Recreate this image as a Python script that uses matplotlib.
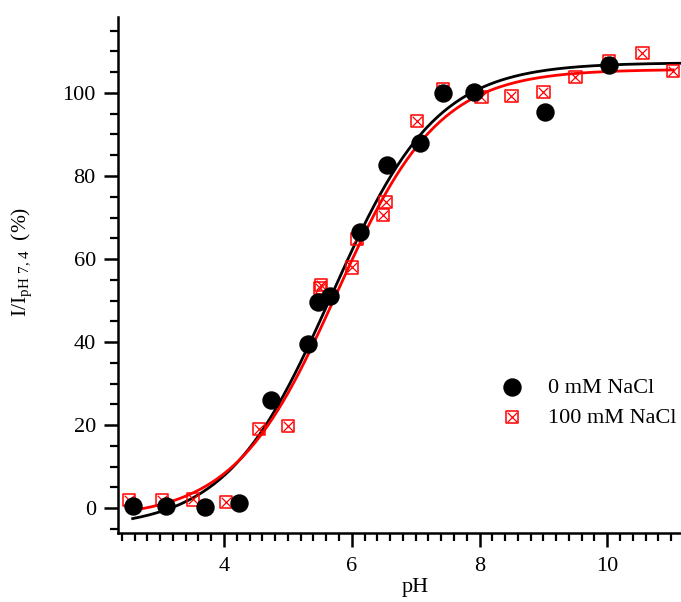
"""pH response of the probe, with and without NaCl, and Boltzmann fits."""
import matplotlib
matplotlib.use("Agg")
import matplotlib.pyplot as plt
import numpy as np
from matplotlib.ticker import MultipleLocator

# 0 mM NaCl
ph_0 = [2.57, 3.09, 3.70, 4.23, 4.74, 5.32, 5.47, 5.66, 6.13, 6.55, 7.07, 7.43, 7.91, 9.02, 10.03]
int_0 = [0.5, 0.5, 0.3, 1.3, 26.0, 39.6, 49.6, 51.0, 66.5, 82.6, 88.0, 100.0, 100.3, 95.4, 106.8]

# 100 mM NaCl
ph_100 = [2.51, 3.03, 3.51, 4.03, 4.55, 5.00, 5.50, 5.52, 6.00, 6.08, 6.49, 6.53, 7.02,
          7.43, 8.03, 8.50, 9.00, 9.50, 10.03, 10.55, 11.03]
int_100 = [2.0, 2.0, 2.1, 1.5, 19.0, 19.8, 53.0, 53.8, 58.0, 64.8, 70.6, 73.7, 93.3,
           101.0, 99.0, 99.3, 100.2, 103.9, 107.7, 109.6, 105.3]

# Boltzmann fit parameters (A1, A2, x0, dx)
fit_0 = (-5.0, 107.3, 5.68, 0.82)
fit_100 = (-2.5, 105.7, 5.76, 0.80)
fit_range_0 = (2.57, 11.6)
fit_range_100 = (2.50, 11.03)

labels = ["0 mM NaCl", "100 mM NaCl"]


def boltzmann(x, a1, a2, x0, dx):
    return a2 + (a1 - a2) / (1 + np.exp((x - x0) / dx))


plt.rcParams["font.family"] = "Liberation Serif"
plt.rcParams["mathtext.fontset"] = "custom"
plt.rcParams["mathtext.rm"] = "Liberation Serif"

fig = plt.figure(figsize=(6.81, 6.02), dpi=100)
ax = fig.add_axes([118 / 681, 69 / 602, 594 / 681, 516 / 602])

xs = np.linspace(*fit_range_0, 300)
ax.plot(xs, boltzmann(xs, *fit_0), color="black", lw=2.0, zorder=2)
xs = np.linspace(*fit_range_100, 300)
ax.plot(xs, boltzmann(xs, *fit_100), color="red", lw=2.0, zorder=2)

sq = ax.scatter(ph_100, int_100, marker="s", s=80, facecolors="none",
                edgecolors="red", linewidths=1.1, zorder=3)
cr = ax.scatter(ph_100, int_100, marker="x", s=48, color="red",
                linewidths=0.9, zorder=3)
dots = ax.scatter(ph_0, int_0, marker="o", s=150, color="black", zorder=4)

ax.set_xlim(2.34, 11.64)
ax.set_ylim(-6.0, 118.3)

for side in ("top", "right"):
    ax.spines[side].set_visible(False)
for side in ("left", "bottom"):
    ax.spines[side].set_linewidth(1.8)

ax.xaxis.set_major_locator(MultipleLocator(2))
ax.xaxis.set_minor_locator(MultipleLocator(0.2))
ax.yaxis.set_major_locator(MultipleLocator(20))
ax.yaxis.set_minor_locator(MultipleLocator(5))
ax.tick_params(which="major", direction="out", length=10, width=1.8,
               labelsize=16, pad=6)
ax.tick_params(which="minor", direction="out", length=6, width=1.6)
ax.tick_params(axis="x", which="major", pad=7)

ax.set_xlabel("pH", fontsize=16, labelpad=2)
fig.text(22 / 681, 1 - 262 / 602, r"I/I$_{\mathrm{pH\ 7,4}}$  (%)", fontsize=15.5,
         rotation=90, ha="center", va="center")

ax.legend([dots, (sq, cr)], labels, loc="upper left",
          bbox_to_anchor=(501 / 681, 1 - 377 / 602), bbox_transform=fig.transFigure,
          frameon=False, fontsize=16, handlelength=1.0, handletextpad=1.1,
          labelspacing=0.45, borderpad=0, borderaxespad=0)

fig.savefig("out.png", dpi=100)
